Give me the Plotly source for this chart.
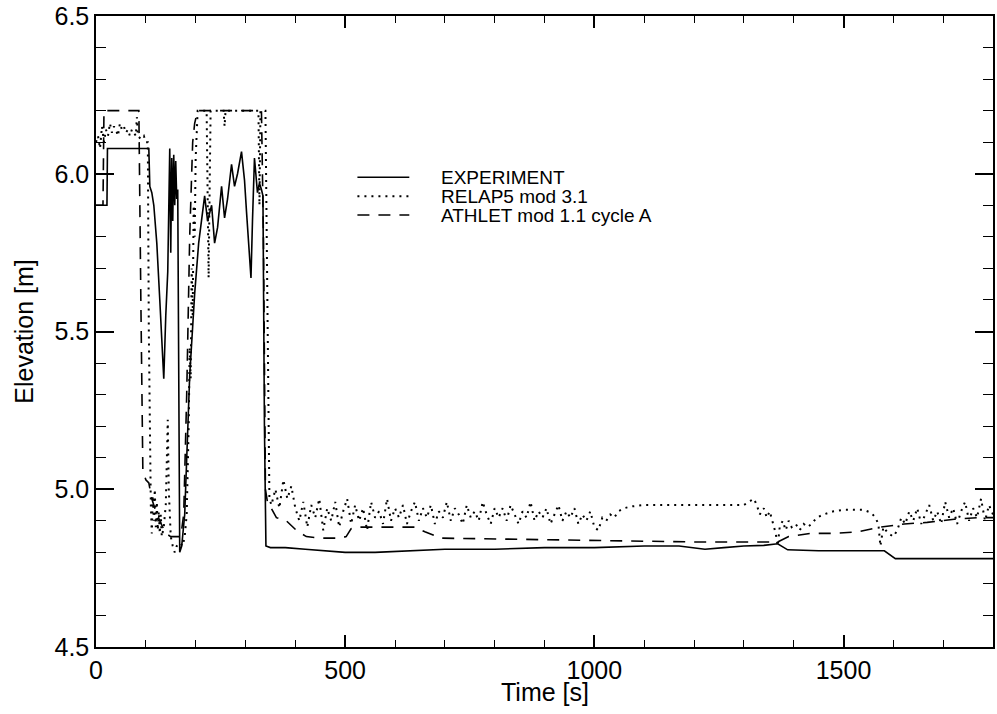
import plotly.graph_objects as go

# ---------------- data ----------------
exp_t = [0, 22, 23, 106, 108, 112, 116, 122, 128, 132, 136, 140, 144, 148, 150,
         152, 154, 156, 158, 160, 162, 164, 166, 168, 172, 178, 188, 198, 206, 212,
         218, 224, 232, 238, 244, 252, 258, 264, 272, 278, 284, 292, 298, 302, 308,
         311, 314, 318, 324, 328, 332, 335, 338, 341, 350, 380, 420, 460, 500, 560,
         620, 700, 800, 900, 1000, 1100, 1170, 1200, 1222, 1260, 1300, 1340, 1368, 1388,
         1450, 1582, 1604, 1700, 1800]
exp_y = [5.90, 5.90, 6.08, 6.08, 5.96, 5.94, 5.90, 5.78, 5.60, 5.45, 5.35, 5.55, 5.69, 6.08, 5.75,
         6.05, 5.85, 6.06, 5.90, 6.04, 5.92, 5.95, 5.50, 4.80, 4.82, 4.92, 5.36, 5.62, 5.78, 5.85,
         5.93, 5.85, 5.90, 5.78, 5.83, 5.96, 5.86, 5.92, 6.03, 5.96, 6.00, 6.07, 5.98, 5.88, 5.72,
         5.67, 5.85, 6.05, 5.94, 5.97, 5.95, 5.93, 5.20, 4.82, 4.815, 4.815, 4.81, 4.805, 4.80, 4.80,
         4.805, 4.81, 4.81, 4.815, 4.815, 4.82, 4.82, 4.815, 4.81, 4.815, 4.82, 4.822, 4.827, 4.808,
         4.805, 4.805, 4.78, 4.78, 4.78]

rel_t = [0, 4, 8, 12, 16, 20, 24, 28, 32, 36, 40, 44, 48, 52, 56, 60, 64, 68, 72, 76,
         80, 82, 84, 90, 96, 100, 104, 106, 108, 110, 112, 114, 116, 118, 120, 122, 124, 126,
         128, 130, 132, 136, 140, 142, 144, 146, 148, 150, 154, 158, 162, 168, 174, 178, 182,
         186, 188, 190, 192, 194, 196, 198, 200, 204, 222, 224, 226, 228, 230, 256, 258, 260,
         326, 328, 330, 340, 344, 348,
         352, 360, 368, 376, 384, 392, 400,
         408, 416, 424, 432, 440, 448, 456, 464, 472, 480, 488, 496, 504, 512, 520, 528, 536,
         544, 552, 560, 568, 576, 584, 592, 600,
         608, 616, 624, 632, 640, 648, 656, 664, 672, 680, 688, 696, 704, 712, 720, 728, 736,
         744, 752, 760, 768, 776, 784, 792, 800,
         808, 816, 824, 832, 840, 848, 856, 864, 872, 880, 888, 896, 904, 912, 920, 928, 936,
         944, 952, 960, 968, 976, 984, 992, 1000,
         1008, 1016, 1024, 1032, 1040, 1048,
         1060, 1072, 1100, 1200, 1300, 1310, 1320, 1326, 1332, 1340, 1346, 1352, 1358, 1364,
         1368, 1372, 1378, 1384, 1390, 1396, 1404, 1412, 1420, 1428, 1436, 1446, 1460, 1480,
         1500, 1520, 1540, 1556, 1564, 1570, 1574, 1580, 1590, 1600, 1608, 1616,
         1624, 1632, 1640, 1648, 1656, 1664, 1672, 1680, 1688, 1696, 1704, 1712, 1720, 1728,
         1736, 1744, 1752, 1760, 1768, 1776, 1784, 1792, 1800]
rel_y = [6.10, 6.12, 6.08, 6.15, 6.10, 6.14, 6.12, 6.16, 6.13, 6.15, 6.14, 6.12, 6.16, 6.14, 6.15, 6.13, 6.14, 6.12, 6.14, 6.13,
         6.12, 6.18, 6.12, 6.11, 6.12, 6.10, 6.10, 5.50, 5.15, 4.95, 4.86, 4.98, 4.90, 5.00, 4.88, 4.96, 4.87, 4.93,
         4.86, 4.92, 4.85, 4.88, 4.95, 5.10, 5.22, 5.00, 4.90, 4.85, 4.82, 4.80, 4.82, 4.83, 4.82, 4.85, 4.92,
         5.20, 5.45, 5.35, 5.70, 5.55, 5.90, 5.80, 6.05, 6.20, 6.20, 5.90, 5.67, 5.95, 6.20, 6.20, 6.15, 6.20,
         6.20, 5.90, 6.20, 6.20, 5.50, 4.97,
         4.95, 5.00, 4.94, 5.03, 4.97, 5.01, 4.94,
         4.90, 4.96, 4.88, 4.95, 4.91, 4.97, 4.87, 4.94, 4.90, 4.96, 4.88, 4.93, 4.97, 4.89, 4.95, 4.90, 4.94,
         4.87, 4.96, 4.91, 4.93, 4.89, 4.97, 4.90, 4.94,
         4.91, 4.95, 4.89, 4.93, 4.96, 4.90, 4.94, 4.91, 4.95, 4.89, 4.93, 4.91, 4.96, 4.90, 4.94, 4.92, 4.89,
         4.95, 4.91, 4.93, 4.90, 4.96, 4.92, 4.89, 4.94,
         4.91, 4.94, 4.90, 4.95, 4.92, 4.89, 4.93, 4.91, 4.96, 4.90, 4.93, 4.91, 4.94, 4.89, 4.92, 4.95, 4.90,
         4.93, 4.91, 4.94, 4.89, 4.92, 4.90, 4.93, 4.88,
         4.87, 4.91, 4.90, 4.92, 4.91, 4.93,
         4.94, 4.945, 4.95, 4.95, 4.95, 4.96, 4.97, 4.95, 4.92, 4.94, 4.91, 4.93, 4.89, 4.86,
         4.82, 4.88, 4.90, 4.87, 4.90, 4.88, 4.89, 4.87, 4.89, 4.88, 4.89, 4.91, 4.92, 4.93,
         4.935, 4.935, 4.935, 4.925, 4.91, 4.89, 4.82, 4.88, 4.86, 4.85, 4.87, 4.91,
         4.89, 4.93, 4.90, 4.94, 4.89, 4.92, 4.95, 4.90, 4.93, 4.89, 4.96, 4.91, 4.94, 4.89,
         4.93, 4.96, 4.90, 4.94, 4.91, 4.97, 4.90, 4.95, 4.92]

ath_t = [0, 14, 16, 86, 90, 94, 100, 106, 112, 120, 128, 134, 140, 150, 164, 170, 176, 182,
         188, 194, 198, 204, 332, 336, 340, 344, 348, 362, 382, 402, 422, 448, 490, 502, 512,
         520, 640, 660, 694, 800, 1000, 1200, 1368, 1390, 1434, 1482, 1528, 1574, 1622, 1668,
         1722, 1768, 1800]
ath_y = [5.90, 5.90, 6.20, 6.20, 5.60, 5.06, 5.03, 5.02, 4.97, 4.93, 4.90, 4.88, 4.86, 4.85, 4.85, 4.85, 4.92, 5.30,
         5.80, 6.10, 6.16, 6.20, 6.20, 5.80, 5.00, 4.96, 4.95, 4.91, 4.90, 4.87, 4.85, 4.845, 4.845, 4.85, 4.875,
         4.88, 4.88, 4.865, 4.845, 4.842, 4.838, 4.833, 4.833, 4.85, 4.86, 4.86, 4.865, 4.88, 4.89, 4.895,
         4.905, 4.91, 4.91]

series_names = ["EXPERIMENT", "RELAP5 mod 3.1", "ATHLET mod 1.1 cycle A"]
x_ticks = [0, 500, 1000, 1500]
y_ticks = [4.5, 5.0, 5.5, 6.0, 6.5]
x_title = "Time [s]"
y_title = "Elevation [m]"

# ---------------- styling ----------------
W, H = 997, 714
ML, MR, MT, MB = 96, 2, 13, 67
FONT = "Liberation Sans, Arial, Helvetica, sans-serif"
styles = [dict(color="black", width=1.6, dash="solid"),
          dict(color="black", width=2.0, dash="2px,5px"),
          dict(color="black", width=1.6, dash="12px,9px")]

fig = go.Figure()
for (t, y), name, st in zip([(exp_t, exp_y), (rel_t, rel_y), (ath_t, ath_y)], series_names, styles):
    fig.add_trace(go.Scatter(x=t, y=y, mode="lines", name=name, line=st, showlegend=False))

# manual legend (line samples + labels) placed in paper coordinates
def px_to_paper_x(px):
    return (px - ML) / (W - ML - MR)

def px_to_paper_y(py):
    return 1 - (py - MT) / (H - MT - MB)

leg_rows = [175, 194, 213]
for row, name, st in zip(leg_rows, series_names, styles):
    fig.add_shape(type="line", xref="paper", yref="paper",
                  x0=px_to_paper_x(358), x1=px_to_paper_x(410),
                  y0=px_to_paper_y(row), y1=px_to_paper_y(row),
                  line=st)
    fig.add_annotation(xref="paper", yref="paper", x=px_to_paper_x(440), y=px_to_paper_y(row),
                       text=name, showarrow=False, xanchor="left", yanchor="middle",
                       font=dict(family=FONT, size=19, color="black"))

# x-axis title as an annotation for exact placement
fig.add_annotation(xref="paper", yref="paper", x=0.5, y=px_to_paper_y(692),
                   text=x_title, showarrow=False, xanchor="center", yanchor="middle",
                   font=dict(family=FONT, size=25, color="black"))

axis_common = dict(showline=True, linecolor="black", linewidth=1.5, mirror="ticks",
                   ticks="inside", tickcolor="black", tickwidth=1.5,
                   showgrid=False, zeroline=False, ticklabeloverflow="allow",
                   tickfont=dict(family=FONT, size=25, color="black"))

fig.update_xaxes(range=[0, 1800], tickvals=x_ticks, ticklen=12,
                 minor=dict(dtick=100, ticklen=7, ticks="inside", tickcolor="black", tickwidth=1.2, showgrid=False),
                 **axis_common)
fig.update_yaxes(range=[4.5, 6.5], tickvals=y_ticks, tickformat=".1f", ticklen=18,
                 minor=dict(dtick=0.1, ticklen=10, ticks="inside", tickcolor="black", tickwidth=1.2, showgrid=False),
                 title=dict(text=y_title, font=dict(family=FONT, size=25, color="black"), standoff=14),
                 **axis_common)

fig.update_layout(width=W, height=H, margin=dict(l=ML, r=MR, t=MT, b=MB),
                  plot_bgcolor="white", paper_bgcolor="white", showlegend=False,
                  font=dict(family=FONT, color="black"))

fig.write_html("out.html")
